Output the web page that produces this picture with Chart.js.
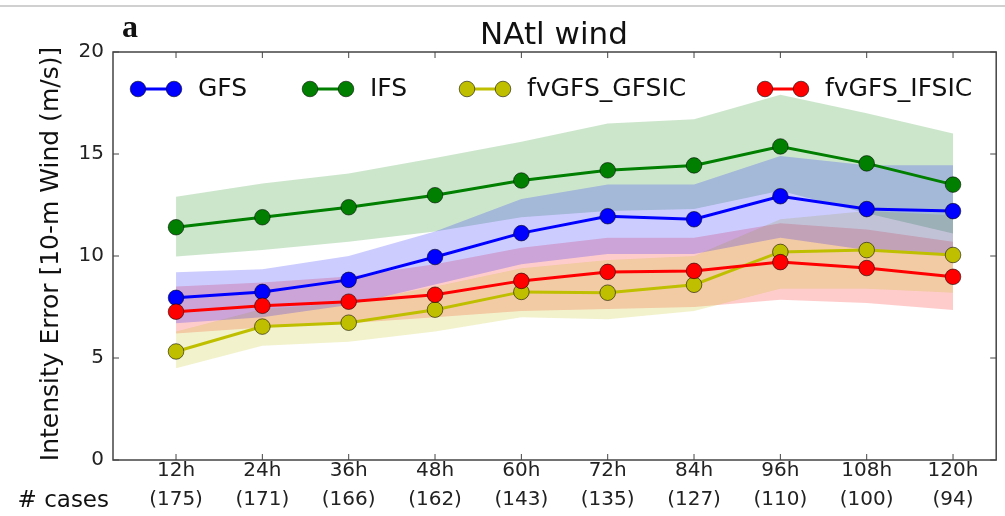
<!DOCTYPE html>
<html>
<head>
<meta charset="utf-8">
<script src="https://cdn.jsdelivr.net/npm/chart.js@4"></script>
<style>
  html, body { margin: 0; padding: 0; background: #fff; }
  canvas { display: block; }
</style>
</head>
<body>
<canvas id="windChart" width="1005" height="516"></canvas>
<script>
// lead times and number of cases
const hours = ["12h", "24h", "36h", "48h", "60h", "72h", "84h", "96h", "108h", "120h"];
const cases = [175, 171, 166, 162, 143, 135, 127, 110, 100, 94];

// mean intensity error (m/s)
const gfs = [7.95, 8.24, 8.83, 9.95, 11.12, 11.95, 11.8, 12.93, 12.3, 12.2];
const ifs = [11.41, 11.9, 12.39, 12.98, 13.7, 14.2, 14.44, 15.37, 14.54, 13.5];
const gfsic = [5.32, 6.54, 6.73, 7.37, 8.24, 8.2, 8.59, 10.2, 10.29, 10.05];
const ifsic = [7.27, 7.56, 7.76, 8.1, 8.78, 9.22, 9.27, 9.7, 9.41, 8.98];

// confidence bands
const gfsLo = [6.7, 7.0, 7.6, 8.6, 9.6, 10.1, 10.1, 10.9, 10.3, 10.0];
const gfsHi = [9.2, 9.35, 10.0, 11.2, 12.8, 13.5, 13.5, 14.9, 14.45, 14.45];
const ifsLo = [9.97, 10.3, 10.7, 11.2, 11.9, 12.2, 12.3, 13.2, 12.1, 11.1];
const ifsHi = [12.9, 13.55, 14.05, 14.8, 15.6, 16.5, 16.7, 17.9, 17.0, 16.0];
const gfsicLo = [4.5, 5.6, 5.8, 6.3, 7.0, 6.9, 7.3, 8.4, 8.4, 8.2];
const gfsicHi = [6.3, 7.4, 7.7, 8.5, 9.4, 9.8, 10.0, 11.8, 12.2, 12.0];
const ifsicLo = [6.2, 6.5, 6.7, 7.0, 7.3, 7.4, 7.5, 7.85, 7.7, 7.35];
const ifsicHi = [8.5, 8.7, 9.0, 9.6, 10.4, 10.9, 10.9, 11.6, 11.3, 10.7];

const yTicks = [0, 5, 10, 15, 20];

const series = [
    { label: "GFS", mean: gfs, lo: gfsLo, hi: gfsHi, color: "#0000ff", band: "rgba(0,0,255,0.2)", legendX: 138 },
    { label: "IFS", mean: ifs, lo: ifsLo, hi: ifsHi, color: "#007f00", band: "rgba(0,128,0,0.2)", legendX: 310 },
    { label: "fvGFS_GFSIC", mean: gfsic, lo: gfsicLo, hi: gfsicHi, color: "#bfbf00", band: "rgba(191,191,0,0.2)", legendX: 467 },
    { label: "fvGFS_IFSIC", mean: ifsic, lo: ifsicLo, hi: ifsicHi, color: "#ff0000", band: "rgba(255,0,0,0.2)", legendX: 765 }
];

const pts = arr => arr.map((v, i) => ({ x: i + 1, y: v }));

const datasets = [];
series.forEach((s, k) => {
    datasets.push({
        data: pts(s.hi), fill: "+1", backgroundColor: s.band,
        borderWidth: 0, pointRadius: 0, order: 10 + k
    });
    datasets.push({
        data: pts(s.lo), fill: false, borderWidth: 0,
        pointRadius: 0, order: 10 + k
    });
});
series.forEach((s, k) => {
    datasets.push({
        data: pts(s.mean), fill: false,
        borderColor: s.color, borderWidth: 3,
        pointRadius: 7.8, pointBackgroundColor: s.color,
        pointBorderColor: "rgba(0,0,0,0.55)", pointBorderWidth: 1,
        order: 3 - k
    });
});

const FONT = "'DejaVu Sans', sans-serif";

const decor = {
    id: "decor",
    afterDraw(chart) {
        const c = chart.ctx;
        const a = chart.chartArea;
        const xs = chart.scales.x;
        const ys = chart.scales.y;
        c.save();

        // frame and inward ticks
        c.strokeStyle = "#444";
        c.lineWidth = 1.5;
        c.strokeRect(a.left, a.top, a.right - a.left, a.bottom - a.top);
        c.lineWidth = 1;
        hours.forEach((h, i) => {
            const px = xs.getPixelForValue(i + 1);
            c.beginPath();
            c.moveTo(px, a.bottom); c.lineTo(px, a.bottom - 6);
            c.moveTo(px, a.top); c.lineTo(px, a.top + 6);
            c.stroke();
        });
        yTicks.forEach(v => {
            const py = ys.getPixelForValue(v);
            c.beginPath();
            c.moveTo(a.left, py); c.lineTo(a.left + 6, py);
            c.moveTo(a.right, py); c.lineTo(a.right - 6, py);
            c.stroke();
        });

        // top rule of the figure
        c.strokeStyle = "#d0d0d0";
        c.lineWidth = 2;
        c.beginPath();
        c.moveTo(0, 6); c.lineTo(1005, 6);
        c.stroke();

        // panel letter and title
        c.fillStyle = "#111";
        c.font = "bold 32px 'Liberation Serif', serif";
        c.textAlign = "left";
        c.textBaseline = "alphabetic";
        c.fillText("a", 122, 37);
        c.font = "31px " + FONT;
        c.textAlign = "center";
        c.fillText("NAtl wind", 554, 44);

        // y axis title
        c.save();
        c.translate(51, 254);
        c.rotate(-Math.PI / 2);
        c.font = "25px " + FONT;
        c.textBaseline = "middle";
        c.fillText("Intensity Error [10-m Wind (m/s)]", 0, 0);
        c.restore();

        // cases label
        c.font = "23px " + FONT;
        c.textAlign = "right";
        c.textBaseline = "middle";
        c.fillText("# cases", 109, 501);

        // legend
        const ly = 89;
        series.forEach(s => {
            const x1 = s.legendX, x2 = s.legendX + 36;
            c.strokeStyle = s.color;
            c.lineWidth = 3;
            c.beginPath();
            c.moveTo(x1, ly); c.lineTo(x2, ly);
            c.stroke();
            [x1, x2].forEach(mx => {
                c.beginPath();
                c.arc(mx, ly, 7.8, 0, Math.PI * 2);
                c.fillStyle = s.color;
                c.fill();
                c.strokeStyle = "rgba(0,0,0,0.55)";
                c.lineWidth = 1;
                c.stroke();
            });
            c.fillStyle = "#111";
            c.font = "25px " + FONT;
            c.textAlign = "left";
            c.textBaseline = "middle";
            c.fillText(s.label, x2 + 24, ly);
        });

        c.restore();
    }
};

new Chart(document.getElementById("windChart"), {
    type: "line",
    data: { datasets: datasets },
    options: {
        responsive: false,
        animation: false,
        devicePixelRatio: 1,
        layout: { padding: { top: 52, right: 5, left: 0, bottom: 0 } },
        elements: { line: { tension: 0 } },
        plugins: {
            legend: { display: false },
            tooltip: { enabled: false },
            filler: { drawTime: "beforeDatasetsDraw" }
        },
        scales: {
            x: {
                type: "linear",
                min: 0.27,
                max: 10.5,
                grid: { display: false, drawTicks: false },
                border: { display: false },
                afterBuildTicks: scale => {
                    scale.ticks = hours.map((h, i) => ({ value: i + 1 }));
                },
                afterFit: scale => { scale.height = 56; },
                ticks: {
                    autoSkip: false,
                    maxRotation: 0,
                    padding: -4,
                    color: "#222",
                    font: { family: FONT, size: 20, lineHeight: 1.45 },
                    callback: v => [hours[v - 1], "(" + cases[v - 1] + ")"]
                }
            },
            y: {
                min: 0,
                max: 20,
                grid: { display: false, drawTicks: false },
                border: { display: false },
                afterBuildTicks: scale => {
                    scale.ticks = yTicks.map(v => ({ value: v }));
                },
                afterFit: scale => { scale.width = 113; },
                ticks: {
                    padding: 9,
                    color: "#222",
                    font: { family: FONT, size: 20 }
                }
            }
        }
    },
    plugins: [decor]
});
</script>
</body>
</html>
